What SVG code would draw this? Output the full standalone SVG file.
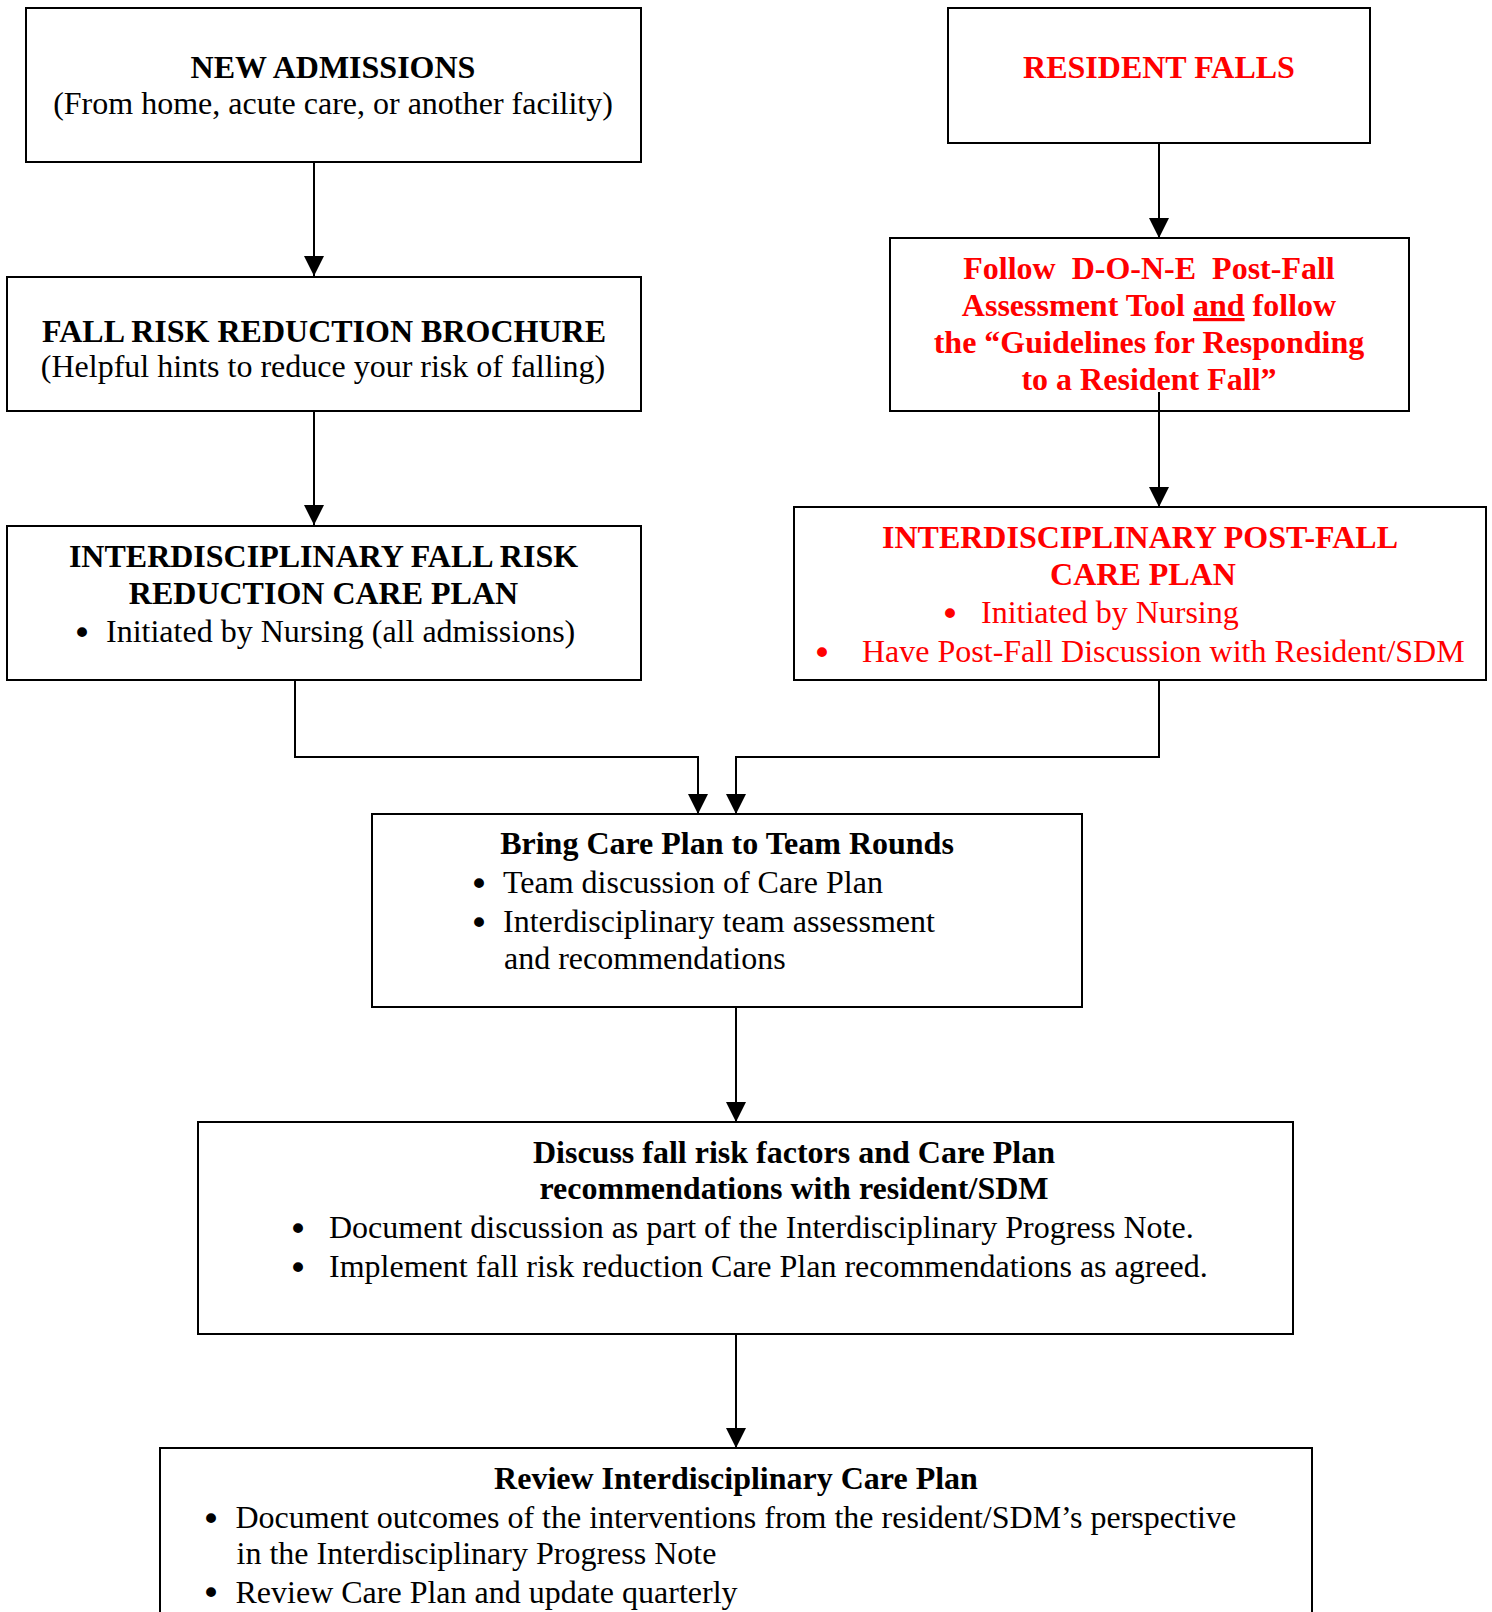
<svg xmlns="http://www.w3.org/2000/svg" width="1492" height="1612" viewBox="0 0 1492 1612">
<style>
.box{fill:#fff;stroke:#000;stroke-width:2}
text{font-family:"Liberation Serif","Times New Roman",serif;font-size:32px;fill:#000}
.b{font-weight:bold}
.red{fill:#ff0000}
.c{text-anchor:middle}
text.bl{font-family:"DejaVu Sans",sans-serif;font-size:34px;text-anchor:middle}
.con{fill:none;stroke:#000;stroke-width:2}
</style>
<defs>
<marker id="arr" viewBox="0 0 20 20" refX="20" refY="10" markerWidth="20" markerHeight="20" markerUnits="userSpaceOnUse" orient="auto">
<path d="M0,0 L20,10 L0,20 z" fill="#000"/>
</marker>
</defs>
<rect width="1492" height="1612" fill="#fff"/>

<g id="n-new-admissions">
<rect class="box" x="26" y="8" width="615" height="154"/>
<text class="b c" x="333" y="78">NEW ADMISSIONS</text>
<text class="c" x="333" y="114">(From home, acute care, or another facility)</text>
</g>

<g id="n-resident-falls">
<rect class="box" x="948" y="8" width="422" height="135"/>
<text class="b c red" x="1159" y="78">RESIDENT FALLS</text>
</g>

<g id="n-brochure">
<rect class="box" x="7" y="277" width="634" height="134"/>
<text class="b c" x="324" y="342">FALL RISK REDUCTION BROCHURE</text>
<text class="c" x="323" y="377">(Helpful hints to reduce your risk of falling)</text>
</g>

<g id="n-done">
<rect class="box" x="890" y="238" width="519" height="173"/>
<text class="b c red" x="1149" y="279" xml:space="preserve">Follow  D-O-N-E  Post-Fall</text>
<text class="b c red" x="1149" y="316">Assessment Tool <tspan text-decoration="underline">and</tspan> follow</text>
<text class="b c red" x="1149" y="353">the “Guidelines for Responding</text>
<text class="b c red" x="1149" y="390">to a Resident Fall”</text>
</g>

<g id="n-fall-risk-plan">
<rect class="box" x="7" y="526" width="634" height="154"/>
<text class="b c" x="323.5" y="567">INTERDISCIPLINARY FALL RISK</text>
<text class="b c" x="323.5" y="604">REDUCTION CARE PLAN</text>
<text class="bl" x="82" y="645">•</text>
<text x="106" y="642">Initiated by Nursing (all admissions)</text>
</g>

<g id="n-post-fall-plan">
<rect class="box" x="794" y="507" width="692" height="173"/>
<text class="b c red" x="1140" y="548">INTERDISCIPLINARY POST-FALL</text>
<text class="b c red" x="1143" y="585">CARE PLAN</text>
<text class="bl red" x="950" y="626">•</text>
<text class="red" x="981" y="623">Initiated by Nursing</text>
<text class="bl red" x="822" y="665">•</text>
<text class="red" x="862" y="662">Have Post-Fall Discussion with Resident/SDM</text>
</g>

<g id="n-team-rounds">
<rect class="box" x="372" y="814" width="710" height="193"/>
<text class="b c" x="727" y="854">Bring Care Plan to Team Rounds</text>
<text class="bl" x="479" y="896">•</text>
<text x="503" y="893">Team discussion of Care Plan</text>
<text class="bl" x="479" y="935">•</text>
<text x="503" y="932">Interdisciplinary team assessment</text>
<text x="504" y="969">and recommendations</text>
</g>

<g id="n-discuss">
<rect class="box" x="198" y="1122" width="1095" height="212"/>
<text class="b c" x="794" y="1163">Discuss fall risk factors and Care Plan</text>
<text class="b c" x="794" y="1199">recommendations with resident/SDM</text>
<text class="bl" x="298" y="1241">•</text>
<text x="329" y="1238">Document discussion as part of the Interdisciplinary Progress Note.</text>
<text class="bl" x="298" y="1280">•</text>
<text x="329" y="1277">Implement fall risk reduction Care Plan recommendations as agreed.</text>
</g>

<g id="n-review">
<rect class="box" x="160" y="1448" width="1152" height="200"/>
<text class="b c" x="736" y="1489">Review Interdisciplinary Care Plan</text>
<text class="bl" x="211" y="1531">•</text>
<text x="235.5" y="1528">Document outcomes of the interventions from the resident/SDM’s perspective</text>
<text x="236.5" y="1564">in the Interdisciplinary Progress Note</text>
<text class="bl" x="211" y="1605">•</text>
<text x="235.5" y="1603">Review Care Plan and update quarterly</text>
</g>

<g id="connectors">
<path class="con" d="M314,162 V276" marker-end="url(#arr)"/>
<path class="con" d="M314,411 V525" marker-end="url(#arr)"/>
<path class="con" d="M1159,143 V238" marker-end="url(#arr)"/>
<path class="con" d="M1159,392 V507" marker-end="url(#arr)"/>
<path class="con" d="M295,680 V757 H698 V814" marker-end="url(#arr)"/>
<path class="con" d="M1159,680 V757 H736 V814" marker-end="url(#arr)"/>
<path class="con" d="M736,1007 V1122" marker-end="url(#arr)"/>
<path class="con" d="M736,1334 V1448" marker-end="url(#arr)"/>
</g>
</svg>
